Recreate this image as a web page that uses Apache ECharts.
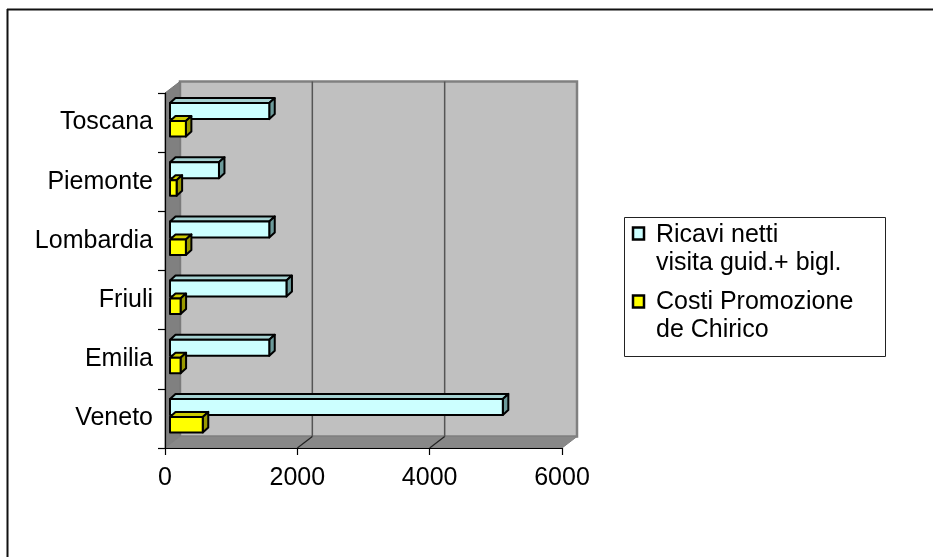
<!DOCTYPE html>
<html>
<head>
<meta charset="utf-8">
<script src="https://cdn.jsdelivr.net/npm/echarts@6/dist/echarts.min.js"></script>
<style>
  html, body { margin: 0; padding: 0; background: #fff; }
  #chart { width: 933px; height: 557px; }
</style>
</head>
<body>
<div id="chart"></div>
<script>
// Regions, listed bottom to top as they appear on the category axis
const categories = ['Veneto', 'Emilia', 'Friuli', 'Lombardia', 'Piemonte', 'Toscana'];
// Ricavi netti visita guidata + biglietto
const ricavi = [5030, 1500, 1760, 1500, 740, 1500];
// Costi promozione de Chirico
const costi = [495, 160, 160, 240, 100, 240];
// Value axis ticks
const xTicks = [0, 2000, 4000, 6000];

const FONT = "'Liberation Sans', Arial, sans-serif";
const FS = 25;
// wall depth offset (pseudo-3D)
const DX = 15, DY = -11.5;
// bar depth offset
const BDX = 5.5, BDY = -5, BSHIFT = 5;

function wallRenderer(params, api) {
  const cs = params.coordSys;
  const L = cs.x, R = cs.x + cs.width, T = cs.y, B = cs.y + cs.height;
  const children = [
    { type: 'rect', shape: { x: L + DX, y: T + DY, width: R - L, height: B - T },
      style: { fill: '#c0c0c0', stroke: '#808080', lineWidth: 2.5 } },
    { type: 'polygon', shape: { points: [[L, T], [L + DX, T + DY], [L + DX, B + DY], [L, B]] },
      style: { fill: '#808080', stroke: '#777', lineWidth: 1 } },
    { type: 'polygon', shape: { points: [[L, B], [R, B], [R + DX, B + DY], [L + DX, B + DY]] },
      style: { fill: '#888888', stroke: '#808080', lineWidth: 1 } }
  ];
  xTicks.slice(1, -1).forEach(function (v) {
    const x = api.coord([v, 0])[0];
    children.push({ type: 'line', shape: { x1: x + DX, y1: T + DY, x2: x + DX, y2: B + DY },
      style: { stroke: '#555', lineWidth: 1.5 } });
    children.push({ type: 'line', shape: { x1: x, y1: B, x2: x + DX, y2: B + DY },
      style: { stroke: '#222', lineWidth: 1.2 } });
  });
  return { type: 'group', children: children };
}

function boxRenderer(yTop, yBot, front, top, side) {
  return function (params, api) {
    const val = api.value(0), cat = api.value(1);
    const p0 = api.coord([0, cat]);
    const p1 = api.coord([val, cat]);
    const x0 = p0[0] + BSHIFT, x1 = p1[0] + BSHIFT, c = p0[1];
    const yt = c + yTop, yb = c + yBot;
    const st = { stroke: '#000', lineWidth: 2, lineJoin: 'round' };
    return {
      type: 'group',
      children: [
        { type: 'polygon', shape: { points: [[x0, yt], [x1, yt], [x1 + BDX, yt + BDY], [x0 + BDX, yt + BDY]] },
          style: Object.assign({ fill: top }, st) },
        { type: 'polygon', shape: { points: [[x1, yt], [x1 + BDX, yt + BDY], [x1 + BDX, yb + BDY], [x1, yb]] },
          style: Object.assign({ fill: side }, st) },
        { type: 'rect', shape: { x: x0, y: yt, width: x1 - x0, height: yb - yt },
          style: Object.assign({ fill: front }, st) }
      ]
    };
  };
}

const chart = echarts.init(document.getElementById('chart'), null, { renderer: 'canvas' });

chart.setOption({
  backgroundColor: '#ffffff',
  animation: false,
  grid: { left: 165, right: 371, top: 93, bottom: 109, containLabel: false },
  xAxis: {
    type: 'value', min: 0, max: 6000, interval: 2000, z: 10,
    axisLine: { show: true, lineStyle: { color: '#000', width: 1.2 } },
    axisTick: { show: true, length: 7, lineStyle: { color: '#000', width: 1.2 } },
    splitLine: { show: false },
    axisLabel: { fontSize: FS, color: '#000', fontFamily: FONT, margin: 18,
                 formatter: function (v) { return String(v); } }
  },
  yAxis: {
    type: 'category', data: categories, z: 10,
    axisLine: { show: true, lineStyle: { color: '#000', width: 1.2 } },
    axisTick: { show: true, length: 7, alignWithLabel: false, lineStyle: { color: '#000', width: 1.2 } },
    splitLine: { show: false },
    axisLabel: { fontSize: FS, color: '#000', fontFamily: FONT, margin: 12, padding: [7, 0, 0, 0] }
  },
  series: [
    { type: 'custom', name: 'walls', z: 1, silent: true, clip: false,
      renderItem: wallRenderer, data: [[0, 0]], encode: { x: 0, y: 1 } },
    { type: 'custom', name: 'Ricavi netti visita guid.+ bigl.', z: 3, silent: true, clip: false,
      renderItem: boxRenderer(-19.5, -3.5, '#ccffff', '#a6d2d2', '#6c9a9a'),
      data: ricavi.map(function (v, i) { return [v, i]; }), encode: { x: 0, y: 1 } },
    { type: 'custom', name: 'Costi Promozione de Chirico', z: 3, silent: true, clip: false,
      renderItem: boxRenderer(-1.5, 14, '#ffff00', '#cccc00', '#999900'),
      data: costi.map(function (v, i) { return [v, i]; }), encode: { x: 0, y: 1 } }
  ],
  graphic: [
    // chart area frame
    { type: 'line', shape: { x1: 7, y1: 9.5, x2: 933, y2: 9.5 }, style: { stroke: '#111', lineWidth: 2 } },
    { type: 'line', shape: { x1: 7.5, y1: 9, x2: 7.5, y2: 557 }, style: { stroke: '#111', lineWidth: 2 } },
    // legend
    { type: 'rect', shape: { x: 624.5, y: 217.5, width: 261, height: 139 },
      style: { fill: '#fff', stroke: '#222', lineWidth: 1 } },
    { type: 'rect', shape: { x: 633, y: 227.5, width: 11, height: 12 },
      style: { fill: '#ccffff', stroke: '#000', lineWidth: 2.5 } },
    { type: 'text', x: 656, y: 221,
      style: { text: 'Ricavi netti\nvisita guid.+ bigl.', fontSize: FS, lineHeight: 28,
               fontFamily: FONT, fill: '#000', textVerticalAlign: 'top' } },
    { type: 'rect', shape: { x: 633, y: 295.5, width: 11, height: 12 },
      style: { fill: '#ffff00', stroke: '#000', lineWidth: 2.5 } },
    { type: 'text', x: 656, y: 288,
      style: { text: 'Costi Promozione\nde Chirico', fontSize: FS, lineHeight: 28,
               fontFamily: FONT, fill: '#000', textVerticalAlign: 'top' } }
  ]
});
</script>
</body>
</html>
